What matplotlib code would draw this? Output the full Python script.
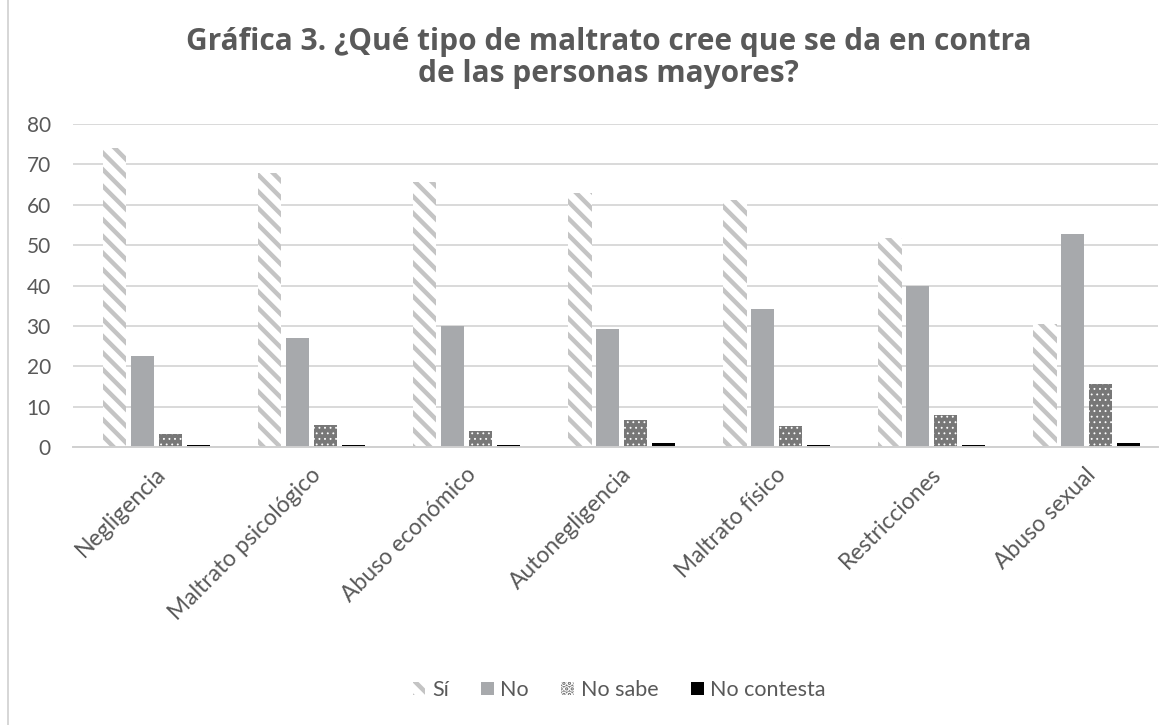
import numpy as np
import matplotlib as mpl
import matplotlib.pyplot as plt
from matplotlib.patches import Rectangle

# Survey data (percent of respondents)
categorias = ["Negligencia", "Maltrato psicológico", "Abuso económico",
              "Autonegligencia", "Maltrato físico", "Restricciones", "Abuso sexual"]
si = [74.0, 67.8, 65.6, 62.9, 61.1, 51.7, 30.4]
no = [22.5, 27.0, 30.0, 29.2, 34.2, 39.9, 52.7]
no_sabe = [3.2, 5.4, 4.0, 6.7, 5.2, 7.9, 15.6]
no_contesta = [0.5, 0.5, 0.5, 1.0, 0.5, 0.5, 1.0]

series_labels = ["Sí", "No", "No sabe", "No contesta"]
y_ticks = [0, 10, 20, 30, 40, 50, 60, 70, 80]

text_color = "#595959"
plt.rcParams.update({
    "font.family": ["Lato", "DejaVu Sans"],
    "hatch.linewidth": 3.2,
})

fig = plt.figure(figsize=(11.68, 7.25), dpi=100)
ax = fig.add_axes([0.0625, 0.3834, 0.929, 0.4456])

x = np.arange(len(categorias))
w = 0.15
step = 0.18
offs = np.array([-1.5, -0.5, 0.5, 1.5]) * step + 0.04

ax.bar(x + offs[0], si, w, facecolor="white", edgecolor="#c4c4c4",
       hatch="\\\\", linewidth=0, label=series_labels[0])
ax.bar(x + offs[1], no, w, color="#a7a9ac", linewidth=0, label=series_labels[1])
with mpl.rc_context({"hatch.linewidth": 0.6}):
    ns = ax.bar(x + offs[2], no_sabe, w, facecolor="#777777", edgecolor="white",
                hatch="...", linewidth=0, label=series_labels[2])
for p in ns:
    if hasattr(p, "set_hatch_linewidth"):
        p.set_hatch_linewidth(0.6)
ax.bar(x + offs[3], no_contesta, w, color="#000000", linewidth=0,
       label=series_labels[3])

ax.set_xlim(-0.5, len(categorias) - 0.5)
ax.set_ylim(0, 80)
ax.set_yticks(y_ticks)
ax.yaxis.grid(True, color="#d9d9d9", linewidth=1.4)
ax.set_axisbelow(True)
for s in ["top", "right", "left"]:
    ax.spines[s].set_visible(False)
ax.spines["bottom"].set_color("#d0d0d0")
ax.spines["bottom"].set_linewidth(1.4)
ax.tick_params(axis="y", length=0, colors=text_color, labelsize=15, pad=16)
ax.tick_params(axis="x", length=0, colors=text_color, labelsize=16.5, pad=12)
ax.set_xticks(x + 0.03)
ax.set_xticklabels(categorias, rotation=45, ha="right", rotation_mode="anchor")

fig.text(0.521, 0.920, "Gráfica 3. ¿Qué tipo de maltrato cree que se da en contra\n"
         "de las personas mayores?", ha="center", va="center",
         fontsize=21.5, fontweight="bold", color=text_color,
         family="Open Sans", linespacing=1.1)

fig.legend(loc="center", bbox_to_anchor=(0.53, 0.048), ncol=4, frameon=False,
           fontsize=15.5, labelcolor=text_color, handlelength=0.6,
           handleheight=0.6, handletextpad=0.3, columnspacing=1.5)

# light frame edge on the left
fig.add_artist(Rectangle((0.007, -0.05), 1.2, 1.2, transform=fig.transFigure,
                         fill=False, edgecolor="#d0d0d0", linewidth=1.2))

fig.savefig("out.png", dpi=100)
